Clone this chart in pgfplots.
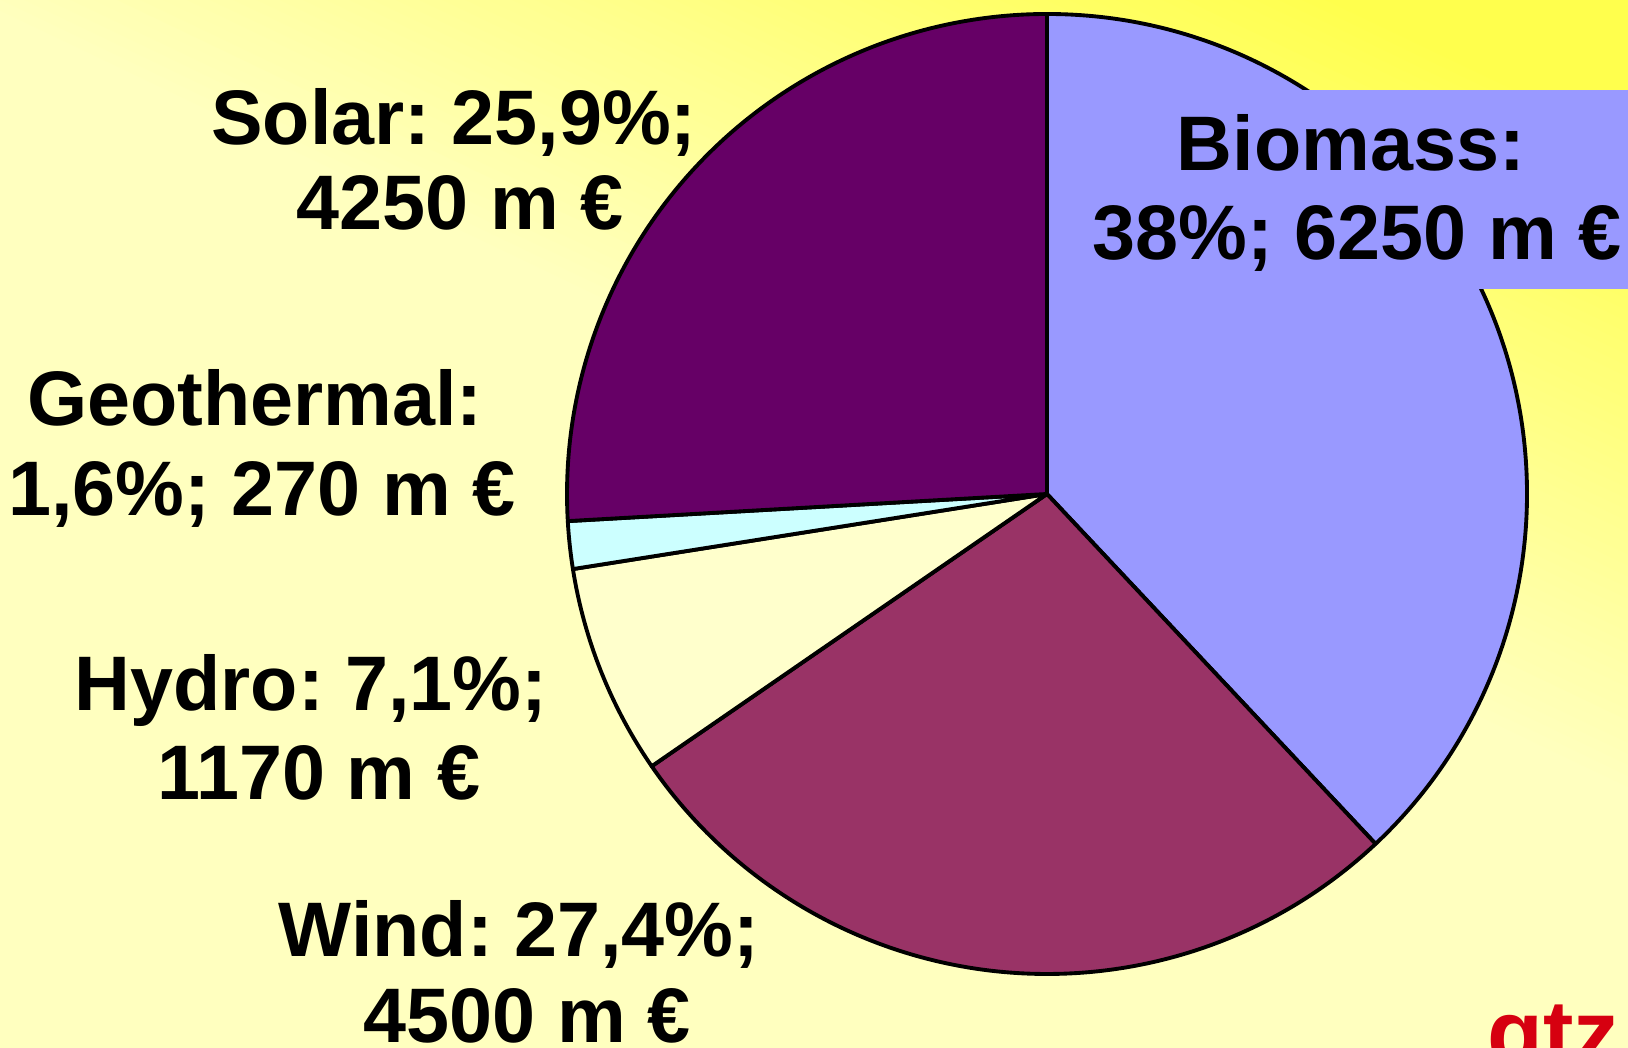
\documentclass[border=0pt]{standalone}
\usepackage{fontspec}
\setmainfont{Liberation Sans}
\usepackage{pgfplots}
\pgfplotsset{compat=1.18}

\definecolor{bgpale}{HTML}{FFFFBF}
\definecolor{bgbright}{HTML}{FFFF4D}
\definecolor{cBio}{HTML}{9999FF}
\definecolor{cWind}{HTML}{993366}
\definecolor{cHydro}{HTML}{FFFFCC}
\definecolor{cGeo}{HTML}{CCFFFF}
\definecolor{cSolar}{HTML}{660066}
\definecolor{gtzred}{HTML}{D60010}

% shares in percent (amounts in m EUR: 6250, 4500, 1170, 270, 4250)
\def\pBio{38}
\def\pWind{27.4}
\def\pHydro{7.1}
\def\pGeo{1.6}
\def\pSolar{25.9}
\pgfmathsetmacro\aA{90}
\pgfmathsetmacro\aB{\aA-3.6*\pBio}
\pgfmathsetmacro\aC{\aB-3.6*\pWind}
\pgfmathsetmacro\aD{\aC-3.6*\pHydro}
\pgfmathsetmacro\aE{\aD-3.6*\pGeo}
\pgfmathsetmacro\aF{\aE-3.6*\pSolar}
\def\R{4.8cm}

\tikzset{
  lbl/.style={anchor=base, inner sep=0pt, font=\bfseries\fontsize{22}{24}\selectfont\frenchspacing},
  slice/.style={line width=1.1pt, line join=round},
}

\begin{document}
\begin{tikzpicture}
\path[use as bounding box] (0,0) rectangle (16.28,10.48);
% background: pale yellow, brightening towards the top right
\fill[bgpale] (0,0) rectangle (16.28,10.48);
\begin{scope}
  \clip (0,0) rectangle (16.28,10.48);
  \begin{scope}[shift={(10.0,10.48)}, rotate=-25.5]
    \foreach \i in {0,...,59}{
      \pgfmathsetmacro\s{-4.5+0.1*\i}
      \pgfmathsetmacro\p{100*\i/59}
      \fill[bgbright!\p!bgpale] (-25,\s) rectangle (25,\s+0.11);
    }
    \fill[bgbright] (-25,1.5) rectangle (25,20);
  \end{scope}
\end{scope}

\begin{axis}[
    at={(0,0)}, anchor=south west,
    scale only axis, width=16.28cm, height=10.48cm,
    xmin=0, xmax=1628, ymin=0, ymax=1048,
    hide axis,
  ]
  \filldraw[slice, fill=cBio] (axis cs:1047,554) -- ++(\aA:\R) arc[start angle=\aA, end angle=\aB, radius=\R] -- cycle;
  \filldraw[slice, fill=cWind] (axis cs:1047,554) -- ++(\aB:\R) arc[start angle=\aB, end angle=\aC, radius=\R] -- cycle;
  \filldraw[slice, fill=cHydro] (axis cs:1047,554) -- ++(\aC:\R) arc[start angle=\aC, end angle=\aD, radius=\R] -- cycle;
  \filldraw[slice, fill=cGeo] (axis cs:1047,554) -- ++(\aD:\R) arc[start angle=\aD, end angle=\aE, radius=\R] -- cycle;
  \filldraw[slice, fill=cSolar] (axis cs:1047,554) -- ++(\aE:\R) arc[start angle=\aE, end angle=\aF, radius=\R] -- cycle;

  % box behind the biomass label
  \fill[cBio] (axis cs:1085,759) rectangle (axis cs:1628,958);

  \node[lbl] at (axis cs:1351,877) {Biomass:};
  \node[lbl] at (axis cs:1357,788) {38\%; 6250 m €};
  \node[lbl] at (axis cs:454,903) {Solar: 25,9\%;};
  \node[lbl] at (axis cs:460,818) {4250 m €};
  \node[lbl] at (axis cs:255,622) {Geothermal:};
  \node[lbl] at (axis cs:262,532) {1,6\%; 270 m €};
  \node[lbl] at (axis cs:311,337) {Hydro: 7,1\%;};
  \node[lbl] at (axis cs:319,248) {1170 m €};
  \node[lbl] at (axis cs:519,91) {Wind: 27,4\%;};
  \node[lbl] at (axis cs:527,5) {4500 m €};
\end{axis}
\node[anchor=base west, inner sep=0pt, text=gtzred, font=\bfseries\fontsize{26}{28}\selectfont] at (14.87,-0.17) {gtz};
\end{tikzpicture}
\end{document}
